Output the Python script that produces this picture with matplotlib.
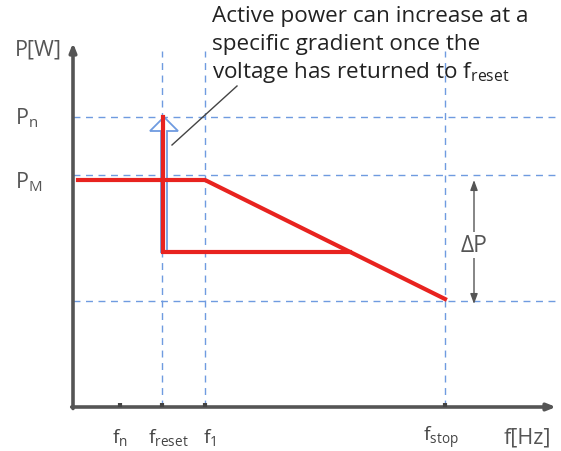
import matplotlib.pyplot as plt
from matplotlib.patches import FancyArrow

plt.rcParams['font.family'] = ['Open Sans', 'DejaVu Sans']
plt.rcParams['mathtext.fontset'] = 'custom'
plt.rcParams['mathtext.rm'] = 'Open Sans'

# frequency positions (arbitrary units along f axis)
f_names = ['n', 'reset', '1', 'stop']
f_vals = [4.7, 8.9, 13.2, 37.2]

# power levels
P_n = 29.0
P_M = 23.2
P_low = 10.6
P_drop = 15.5

# red characteristic curves
curve_f = [0.5, 13.2, 37.2]
curve_P = [22.7, 22.7, 10.8]
reset_f = [9.0, 9.0, 27.7]
reset_P = [29.0, 15.5, 15.5]

RED = '#e8231f'
BLUE = '#6f9be0'
GREY = '#555555'

fig = plt.figure(figsize=(5.61, 4.52), dpi=100)
ax = fig.add_axes([0, 0, 1, 1])
ax.set_xlim(-7.3, 48.8)
ax.set_ylim(-4.4, 40.8)
ax.axis('off')

# dashed guides
for p in [P_n, P_M, P_low]:
    ax.plot([0, 48.8], [p, p], color=BLUE, lw=1, ls=(0, (5, 4)), zorder=1)
for f in f_vals[1:]:
    ax.plot([f, f], [0, 35.6], color=BLUE, lw=1, ls=(0, (5, 4)), zorder=1)

# axes with arrows
ax.annotate('', xy=(0, 36.4), xytext=(0, -0.15),
            arrowprops=dict(arrowstyle='-|>,head_length=0.5,head_width=0.2',
                            color=GREY, lw=2.6, shrinkA=0, shrinkB=0), zorder=3)
ax.annotate('', xy=(48.3, 0), xytext=(-0.13, 0),
            arrowprops=dict(arrowstyle='-|>,head_length=0.5,head_width=0.2',
                            color=GREY, lw=2.6, shrinkA=0, shrinkB=0), zorder=3)
for f in f_vals:
    ax.plot([f, f], [0, 0.45], color='#444444', lw=3, solid_capstyle='butt', zorder=3)

# hollow blue arrow
arr = FancyArrow(9.1, 15.5, 0, 13.5, width=0.6, head_width=2.8, head_length=1.4,
                 length_includes_head=True, facecolor='white', edgecolor=BLUE, lw=1.3, zorder=2)
ax.add_patch(arr)

# red curves
ax.plot(curve_f, curve_P, color=RED, lw=3, solid_joinstyle='miter', zorder=4)
ax.plot(reset_f, reset_P, color=RED, lw=3, solid_joinstyle='miter', zorder=4)

# delta P arrow
ax.annotate('', xy=(40.1, 22.7), xytext=(40.1, 10.3),
            arrowprops=dict(arrowstyle='<|-|>,head_length=0.6,head_width=0.22',
                            color=GREY, lw=1, shrinkA=0, shrinkB=0), zorder=3)
ax.text(40.1, 16.2, r'ΔP', fontsize=16.5, color=GREY, ha='center', va='center', zorder=4,
        bbox=dict(facecolor='white', edgecolor='none', pad=1))

# callout line and text
ax.plot([9.9, 16.4], [26.2, 32.1], color='#444444', lw=1, zorder=3)
note = ['Active power can increase at a', 'specific gradient once the',
        r'voltage has returned to $\mathregular{f_{reset}}$']
for i, line in enumerate(note):
    ax.text(13.9, 38.6 - i * 2.8, line, fontsize=16.2, color='#222222', ha='left', va='baseline')

# labels
ax.text(-5.8, 35.8, 'P[W]', fontsize=15.5, color=GREY, ha='left', va='center')
ax.text(-5.8, P_n, r'$\mathregular{P_n}$', fontsize=15.5, color=GREY, ha='left', va='center')
ax.text(-5.8, 22.6, r'$\mathregular{P_M}$', fontsize=15.5, color=GREY, ha='left', va='center')
label_x = [4.7, 9.5, 13.7, 36.8]
for name, x in zip(f_names, label_x):
    ax.text(x, -3.0, r'$\mathregular{f_{%s}}$' % name, fontsize=14, color='#444444',
            ha='center', va='center')
ax.text(45.4, -3.0, 'f[Hz]', fontsize=15.5, color=GREY, ha='center', va='center')

fig.savefig('out.png', dpi=100)
